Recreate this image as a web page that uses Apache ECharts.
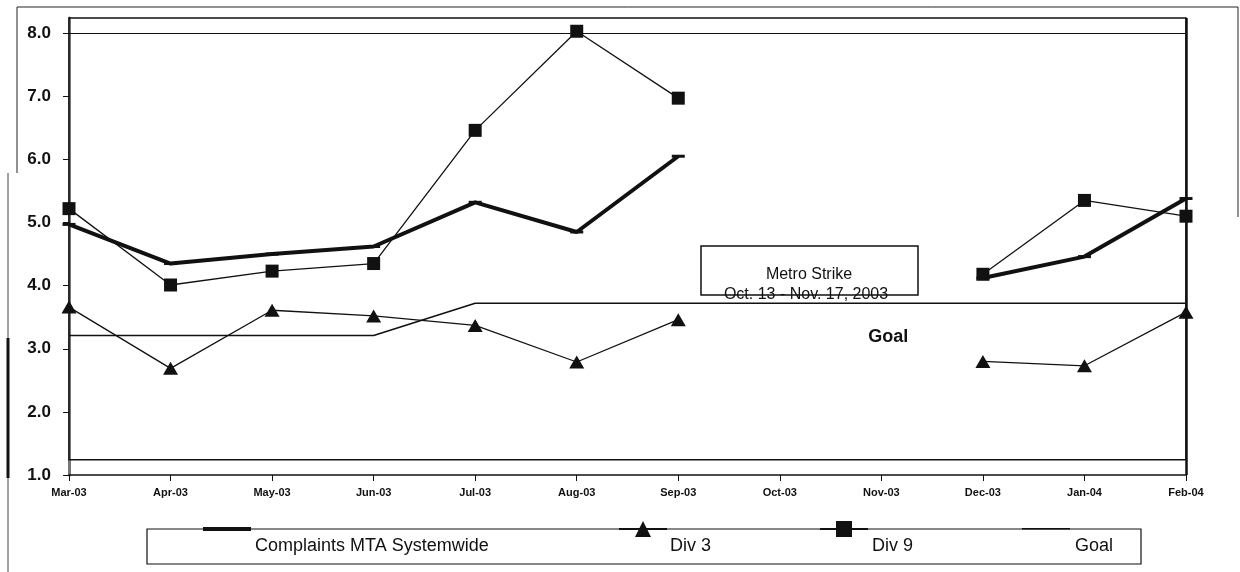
<!DOCTYPE html>
<html>
<head>
<meta charset="utf-8">
<script src="https://cdn.jsdelivr.net/npm/echarts@6/dist/echarts.min.js"></script>
<style>
  html, body { margin: 0; padding: 0; background: #fff; }
  #chart { width: 1240px; height: 572px; }
</style>
</head>
<body>
<div id="chart"></div>
<script>
// Monthly complaint rates, Mar 2003 – Feb 2004 (no data during the Oct–Nov strike)
const months = ['Mar-03', 'Apr-03', 'May-03', 'Jun-03', 'Jul-03', 'Aug-03',
                'Sep-03', 'Oct-03', 'Nov-03', 'Dec-03', 'Jan-04', 'Feb-04'];
const systemwide = [4.97, 4.35, 4.50, 4.62, 5.32, 4.85, 6.05, null, null, 4.12, 4.46, 5.38];
const div3       = [3.66, 2.69, 3.61, 3.52, 3.37, 2.79, 3.46, null, null, 2.80, 2.73, 3.58];
const div9       = [5.22, 4.01, 4.23, 4.35, 6.46, 8.03, 6.97, null, null, 4.18, 5.35, 5.10];
const goal       = [3.21, 3.21, 3.21, 3.21, 3.72, 3.72, 3.72, 3.72, 3.72, 3.72, 3.72, 3.72];
const yTicks     = [1, 2, 3, 4, 5, 6, 7, 8];

const INK = '#111';
const SANS = "'Liberation Sans', Arial, sans-serif";

const chart = echarts.init(document.getElementById('chart'), null, { renderer: 'canvas' });

// Legend keys sit on the top edge of the legend frame, names sit inside it,
// so each entry is split into a key-only legend and a name-only legend.
function legendKey(name, left, top, h, icon) {
  const item = icon ? { name: name, icon: icon } : { name: name };
  return {
    data: [item], left: left, top: top, padding: 0,
    itemWidth: 48, itemHeight: h, itemGap: 0, selectedMode: false,
    formatter: () => '', textStyle: { fontSize: 1 }
  };
}
function legendName(name, left) {
  return {
    data: [{ name: name, icon: 'rect', itemStyle: { color: 'rgba(0,0,0,0)' } }],
    left: left, top: 537, padding: 0,
    itemWidth: 0, itemHeight: 0, itemGap: 0, selectedMode: false,
    textStyle: { fontFamily: SANS, fontSize: 18, color: INK }
  };
}

chart.setOption({
  animation: false,
  backgroundColor: '#fff',
  grid: { left: 69, right: 54, top: 18, bottom: 97, containLabel: false },
  xAxis: {
    type: 'category',
    data: months,
    boundaryGap: false,
    axisLine: { lineStyle: { color: INK, width: 1.5 } },
    axisTick: { show: true, inside: false, length: 6, alignWithLabel: true, lineStyle: { color: INK, width: 1 } },
    axisLabel: { interval: 0, margin: 12, fontFamily: SANS, fontWeight: 'bold', fontSize: 11, color: INK },
    splitLine: { show: false }
  },
  yAxis: {
    type: 'value',
    min: 1,
    max: 8.24,
    interval: 1,
    axisLine: { show: true, lineStyle: { color: '#777', width: 3 } },
    axisTick: { show: true, length: 6, customValues: yTicks, lineStyle: { color: INK, width: 1 } },
    axisLabel: {
      customValues: yTicks,
      margin: 18,
      fontFamily: SANS, fontWeight: 'bold', fontSize: 17, color: INK,
      formatter: v => v.toFixed(1)
    },
    splitLine: { show: false }
  },
  legend: [
    legendKey('Complaints MTA Systemwide', 203, 527, 4, 'rect'),
    legendKey('Div 3', 618, 519, 20),
    legendKey('Div 9', 819, 519, 20),
    legendKey('Goal', 1022, 528, 1.5, 'rect'),
    legendName('Complaints MTA Systemwide', 250),
    legendName('Div 3', 665),
    legendName('Div 9', 867),
    legendName('Goal', 1070)
  ],
  series: [
    {
      name: 'Goal',
      type: 'line',
      data: goal,
      symbol: 'none',
      lineStyle: { color: INK, width: 1.6 },
      itemStyle: { color: INK },
      z: 2,
      markArea: {
        silent: true,
        itemStyle: { color: 'rgba(0,0,0,0)', borderColor: INK, borderWidth: 1.5 },
        data: [[{ xAxis: 'Mar-03', yAxis: 1.24 }, { xAxis: 'Feb-04', yAxis: 8.24 }]]
      },
      markLine: {
        silent: true,
        symbol: 'none',
        label: { show: false },
        data: [
          { yAxis: 8, lineStyle: { color: INK, width: 1.2, type: 'solid' } },
          { xAxis: 'Feb-04', lineStyle: { color: INK, width: 2.5, type: 'solid' } }
        ]
      },
      markPoint: {
        silent: true,
        symbol: 'rect',
        symbolSize: 1,
        itemStyle: { color: 'rgba(0,0,0,0)' },
        data: [{
          coord: ['Nov-03', 3.19],
          label: {
            show: true, formatter: 'Goal', position: 'inside', offset: [7, 0],
            fontFamily: SANS, fontWeight: 'bold', fontSize: 18, color: INK
          }
        }]
      }
    },
    {
      name: 'Div 3',
      type: 'line',
      data: div3,
      symbol: 'triangle',
      symbolSize: [15, 13],
      lineStyle: { color: INK, width: 1.3 },
      itemStyle: { color: INK },
      z: 3
    },
    {
      name: 'Div 9',
      type: 'line',
      data: div9,
      symbol: 'rect',
      symbolSize: 13,
      lineStyle: { color: INK, width: 1.3 },
      itemStyle: { color: INK },
      z: 3
    },
    {
      name: 'Complaints MTA Systemwide',
      type: 'line',
      data: systemwide,
      symbol: 'rect',
      symbolSize: [13, 3],
      lineStyle: { color: INK, width: 4 },
      itemStyle: { color: INK },
      z: 4
    }
  ],
  graphic: [
    // page frame
    { type: 'polyline', silent: true, shape: { points: [[17, 173], [17, 7], [1238, 7], [1238, 217]] },
      style: { stroke: '#222', lineWidth: 1, fill: null } },
    { type: 'line', silent: true, shape: { x1: 8, y1: 173, x2: 8, y2: 572 }, style: { stroke: '#444', lineWidth: 1 } },
    { type: 'line', silent: true, shape: { x1: 8, y1: 338, x2: 8, y2: 478 }, style: { stroke: '#111', lineWidth: 3 } },
    // legend frame
    { type: 'rect', silent: true, z: -1, shape: { x: 147, y: 529, width: 994, height: 35 },
      style: { fill: '#fff', stroke: INK, lineWidth: 1.2 } },
    // strike annotation
    { type: 'rect', silent: true, z: 10, shape: { x: 701, y: 246, width: 217, height: 49 },
      style: { fill: '#fff', stroke: INK, lineWidth: 1.5 } },
    { type: 'text', silent: true, z: 11, x: 809, y: 275,
      style: { text: 'Metro Strike', fontFamily: SANS, fontSize: 16, fill: INK, align: 'center', verticalAlign: 'middle' } },
    { type: 'text', silent: true, z: 11, x: 806, y: 295,
      style: { text: 'Oct. 13 - Nov. 17, 2003', fontFamily: SANS, fontSize: 16, fill: INK, align: 'center', verticalAlign: 'middle' } }
  ]
});
</script>
</body>
</html>
